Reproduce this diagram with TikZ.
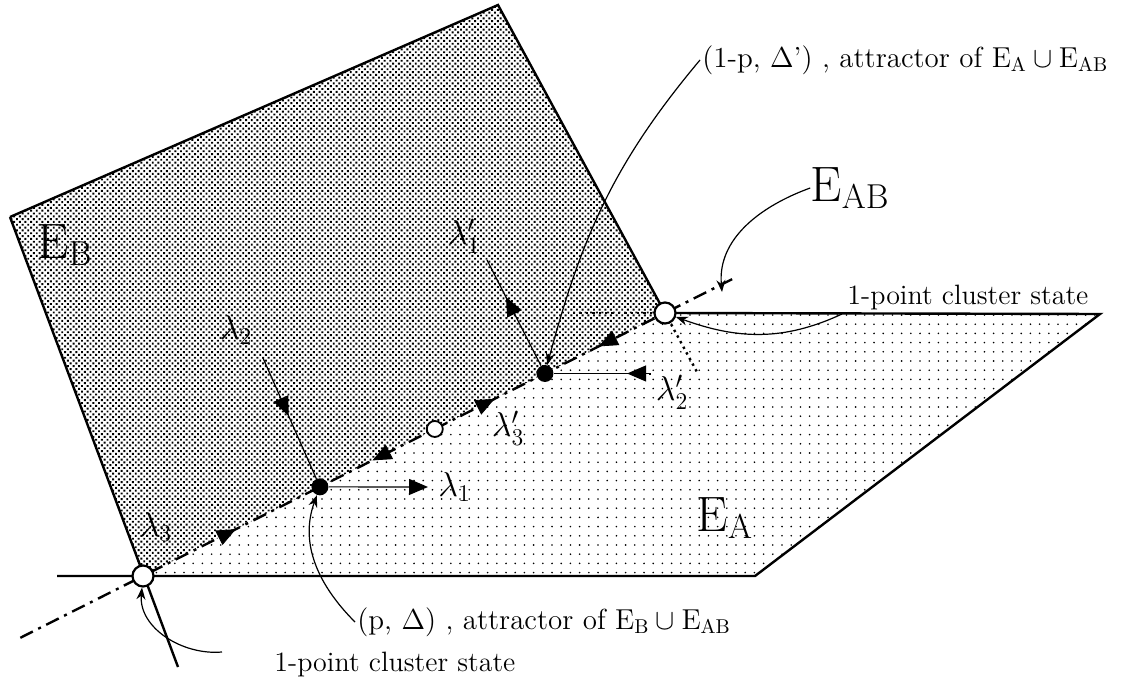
\documentclass[tikz,border=0pt]{standalone}
\usepackage{amsmath}
\usepackage{tikz}
\usetikzlibrary{arrows.meta, calc, positioning, patterns.meta, decorations.markings}

\tikzset{
    denseB/.style={pattern={Dots[distance=2pt, angle=45, radius=0.68pt]}},
    sparseA/.style={pattern={Dots[distance=4.6pt, radius=0.45pt]}},
    edge/.style={draw=black, line width=1.2pt},
    hidden/.style={draw=black, line width=1.2pt, dotted},
    eab/.style={draw=black, line width=1.2pt, dash pattern=on 7pt off 3pt on 1.5pt off 3pt},
    thinline/.style={draw=black, line width=0.6pt},
    flowmark/.style={postaction={decorate}, decoration={markings,
        mark=at position #1 with {\arrow{Triangle[length=9.5pt, width=8pt]}}}},
    callout/.style={draw=black, line width=0.6pt, -{Stealth[length=6pt, width=4.5pt]}},
    fixpt/.style={circle, fill=black, inner sep=0pt, minimum size=8.5pt},
    openpt/.style={circle, draw=black, fill=white, line width=1.1pt, inner sep=0pt, minimum size=10.5pt},
    saddlept/.style={circle, draw=black, fill=white, line width=0.9pt, inner sep=0pt, minimum size=8pt},
    biglab/.style={font=\fontsize{23}{26}\selectfont, inner sep=0pt},
    lamlab/.style={font=\fontsize{18}{20}\selectfont, inner sep=1pt},
    txtlab/.style={font=\fontsize{14.5}{17}\selectfont, inner sep=1pt},
    smalllab/.style={font=\fontsize{14}{17}\selectfont, inner sep=1pt}
}

\begin{document}
\begin{tikzpicture}[x=0.5pt, y=-0.5pt]
    \useasboundingbox (0,0) rectangle (1143,683);
    % corners of the two planes
    \coordinate (bTop) at (498,5);
    \coordinate (bLeft) at (10,217);
    \coordinate (bFoot) at (178,667);
    \coordinate (aLeft) at (57,576);
    \coordinate (aBot) at (755,576);
    \coordinate (aRight) at (1100,314);
    \coordinate (cL) at (143,576);
    \coordinate (cR) at (665,313);
    % shaded planes
    \fill[denseB] (bLeft) -- (bTop) -- (cR) -- (cL) -- cycle;
    \fill[sparseA] (cL) -- (aBot) -- (aRight) -- (cR) -- cycle;
    \draw[edge] (bLeft) -- (bTop) -- (cR);
    \draw[edge] (bLeft) -- (bFoot);
    \draw[edge] (aLeft) -- (aBot) -- (aRight) -- (cR);
    \draw[hidden] (cR) -- ($(cR)+(-97,0)$);
    \draw[hidden] (cR) -- ($(cR)!-0.2!(bTop)$);

    % the line E_AB
    \coordinate (eabS) at ($(cL)!-0.235!(cR)$);
    \coordinate (eabE) at ($(cL)!1.13!(cR)$);
    \draw[eab] (eabS) -- (eabE);

    % fixed points
    \node[fixpt] (pA) at ($(cL)!0.339!(cR)$) {};
    \node[saddlept] (pM) at ($(cL)!0.559!(cR)$) {};
    \node[fixpt] (pB) at ($(cL)!0.770!(cR)$) {};
    \node[openpt] (oL) at (cL) {};
    \node[openpt] (oR) at (cR) {};

    % flow on E_AB
    \path[flowmark=0.52] (oL) -- (pA);
    \path[flowmark=0.55] (pM) -- (pA);
    \path[flowmark=0.55] (pM) -- (pB);
    \path[flowmark=0.55] (oR) -- (pB);

    % eigen directions
    \coordinate (l2end) at (263,358);
    \coordinate (l1end) at (428,487);
    \coordinate (l1pend) at (487,260);
    \coordinate (l2pend) at (650,375);
    \draw[thinline, flowmark=0.48] (l2end) -- (pA);
    \draw[thinline, -{Triangle[length=9.5pt, width=8pt]}] (pA) -- (l1end);
    \draw[thinline, flowmark=0.65] (pB) -- (l1pend);
    \draw[thinline, flowmark=0.25] (l2pend) -- (pB -| l2pend) -- (pB);

    \node[lamlab] (lam2) at (236,330) {$\lambda_2$};
    \node[lamlab, right=4pt of l1end] (lam1) {$\lambda_1$};
    \node[lamlab] (lam3) at (156,527) {$\lambda_3$};
    \node[lamlab] (lam1p) at (464,236) {$\lambda'_1$};
    \node[lamlab] (lam2p) at (672,392) {$\lambda'_2$};
    \node[lamlab] (lam3p) at (508,428) {$\lambda'_3$};

    % plane labels
    \node[biglab] (labB) at (65,245) {$\mathrm{E}_{\mathrm{B}}$};
    \node[biglab] (labA) at (725,518) {$\mathrm{E}_{\mathrm{A}}$};
    \node[biglab] (labAB) at (850,188) {$\mathrm{E}_{\mathrm{AB}}$};

    % texts
    \node[txtlab, anchor=west] (attB) at (700,60)
        {(1-p, $\Delta$') , attractor of $\mathrm{E}_{\mathrm{A}}\cup\mathrm{E}_{\mathrm{AB}}$};
    \node[txtlab, anchor=west] (attA) at (355,622)
        {(p, $\Delta$) , attractor of $\mathrm{E}_{\mathrm{B}}\cup\mathrm{E}_{\mathrm{AB}}$};
    \node[smalllab, anchor=west] (oneR) at (845,298) {1-point cluster state};
    \node[smalllab, anchor=west] (oneL) at (272,664) {1-point cluster state};

    % callouts
    \coordinate (eabtip) at (722,292);
    \coordinate (oneLtail) at (222,652);
    \coordinate (oneRtail) at (842,314);
    \draw[callout] (attB.west) to[out=-130, in=75] (pB);
    \draw[callout] (labAB.west) to[out=200, in=95] (eabtip);
    \draw[callout] (oneRtail) to[out=205, in=-20] (oR);
    \draw[callout] (attA.west) to[out=135, in=-110] (pA);
    \draw[callout] (oneLtail) to[out=185, in=-95] (oL);
\end{tikzpicture}
\end{document}
